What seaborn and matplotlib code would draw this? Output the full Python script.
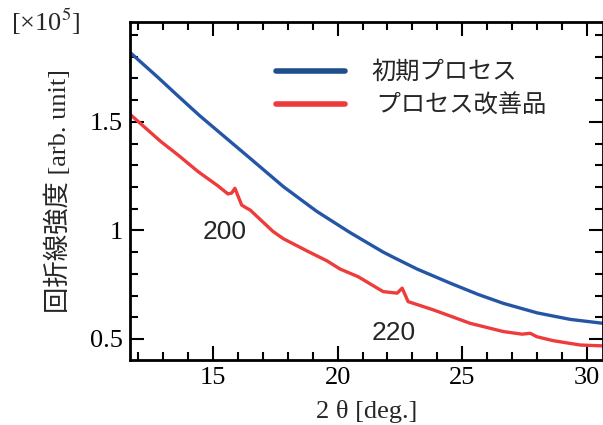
import matplotlib
matplotlib.use("Agg")
import matplotlib.pyplot as plt
import seaborn as sns
import pandas as pd
from matplotlib.ticker import MultipleLocator, FixedLocator, FixedFormatter

# values (intensity in units of 1e5)
blue_2theta = [11.67, 12.79, 13.59, 14.48, 15.48, 16.49, 17.82, 19.16, 20.50, 21.83,
               22.31, 23.19, 24.52, 25.64, 26.65, 28.01, 29.34, 30.65]
blue_int = [1.820, 1.705, 1.620, 1.527, 1.430, 1.332, 1.202, 1.088, 0.990, 0.900,
            0.872, 0.822, 0.757, 0.705, 0.664, 0.620, 0.590, 0.572]

red_2theta = [11.67, 12.91, 13.59, 14.40, 15.20, 15.60, 15.75, 15.88, 16.15, 16.33,
              16.49, 17.41, 17.82, 18.78, 19.57, 20.10, 20.82, 21.83, 22.39, 22.59,
              22.83, 23.84, 25.32, 26.65, 27.40, 27.73, 28.00, 28.65, 29.74, 30.65]
red_int = [1.535, 1.409, 1.348, 1.271, 1.205, 1.168, 1.172, 1.194, 1.117, 1.104,
           1.094, 0.995, 0.962, 0.905, 0.860, 0.822, 0.787, 0.718, 0.711, 0.734,
           0.672, 0.634, 0.572, 0.534, 0.522, 0.526, 0.510, 0.492, 0.472, 0.468]

labels = ["初期プロセス", " プロセス改善品"]
colors = ["#2556a6", "#ee3b3b"]
legend_colors = ["#1f4e8c", "#ee3a3a"]

y_major = [0.5, 1.0, 1.5]
y_major_labels = ["0.5", "1", "1.5"]
x_major = [15, 20, 25, 30]

peak_labels = ["200", "220"]
peak_pos = [(15.46, 0.993), (22.25, 0.528)]

df = pd.concat([
    pd.DataFrame({"2theta": blue_2theta, "I": blue_int, "sample": labels[0]}),
    pd.DataFrame({"2theta": red_2theta, "I": red_int, "sample": labels[1]}),
])

sns.set_style("ticks")
plt.rcParams["font.family"] = ["Liberation Serif", "Noto Sans CJK JP", "DejaVu Sans"]
plt.rcParams["mathtext.fontset"] = "stix"

fig = plt.figure(figsize=(6.03, 4.25), dpi=100)
ax = fig.add_axes([130 / 603, 1 - 360 / 425, 1 - 130 / 603, (360 - 22) / 425])

sns.lineplot(data=df, x="2theta", y="I", hue="sample", palette=colors,
             estimator=None, sort=False, linewidth=2.4, ax=ax)

ax.set_xlim(11.67, 30.65)
ax.set_ylim(0.403, 1.96)

ax.xaxis.set_major_locator(FixedLocator(x_major))
ax.xaxis.set_minor_locator(MultipleLocator(1))
ax.yaxis.set_major_locator(FixedLocator(y_major))
ax.yaxis.set_major_formatter(FixedFormatter(y_major_labels))
ax.yaxis.set_minor_locator(MultipleLocator(0.1))

ax.tick_params(which="both", direction="in", top=True, right=True,
               width=1.5, colors="black", labelsize=19)
ax.tick_params(which="major", length=10, pad=5)
ax.tick_params(which="minor", length=6)
for s in ax.spines.values():
    s.set_linewidth(2)
    s.set_color("black")

ax.set_xlabel("2 θ [deg.]", fontsize=19, labelpad=8)
ax.set_ylabel("回折線強度 [arb. unit]", fontsize=19, labelpad=14)

fig.text(0.018, 0.985, "[×10$^5$]", fontsize=19, ha="left", va="top")

for txt, (px, py) in zip(peak_labels, peak_pos):
    ax.text(px, py, txt, fontsize=19, family=["Liberation Sans", "DejaVu Sans"],
            ha="center", va="center")

leg = ax.legend(frameon=False, loc="upper left", bbox_to_anchor=(0.284, 0.926),
                prop={"family": ["Noto Sans CJK JP", "DejaVu Sans"], "size": 17.5},
                handlelength=2.8, handletextpad=1.1, labelspacing=0.3, borderpad=0)
for line, c in zip(leg.get_lines(), legend_colors):
    line.set_linewidth(4)
    line.set_color(c)

fig.savefig("out.png", dpi=100)
